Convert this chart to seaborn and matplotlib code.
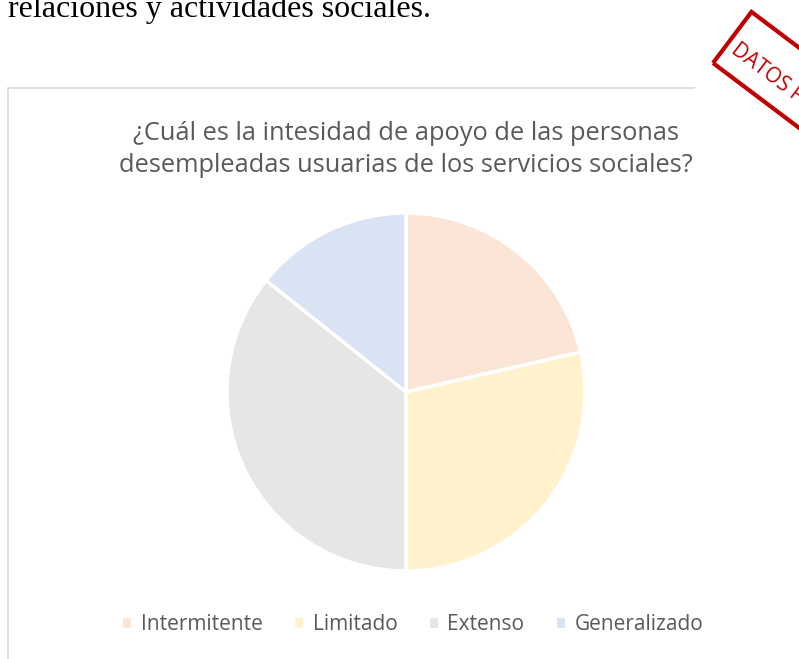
import matplotlib
matplotlib.use("Agg")
import matplotlib.pyplot as plt
import matplotlib.patches as mpatches
from matplotlib.transforms import IdentityTransform
import seaborn as sns

# data
categorias = ["Intermitente", "Limitado", "Extenso", "Generalizado"]
valores = [15, 20, 25, 10]
colores = ["#FBE5D6", "#FFF2CC", "#E6E6E6", "#DAE3F3"]
titulo = ["¿Cuál es la intesidad de apoyo de las personas",
          "desempleadas usuarias de los servicios sociales?"]

sns.set_theme(style="white")
plt.rcParams["font.family"] = ["Open Sans", "DejaVu Sans"]

W, H = 799, 659
fig = plt.figure(figsize=(W / 100, H / 100), dpi=100)
px = IdentityTransform()

# texto del documento por encima del gráfico
fig.text(8, H - 17, "relaciones y actividades sociales.", transform=px,
         family="Liberation Serif", fontsize=23, color="black", va="baseline")

# marco del gráfico
fig.add_artist(mpatches.Rectangle((8, -10), 900, H - 88 + 10, transform=px,
                                  fill=False, edgecolor="#D9D9D9", lw=1.2))

# título (dos líneas)
for i, linea in enumerate(titulo):
    fig.text(406, H - 140 - 32 * i, linea, transform=px, ha="center", va="baseline",
             fontsize=18.3, color="#595959")

# tarta
cx, cy, r = 406, H - 392, 179
ax = fig.add_axes([(cx - r) / W, (cy - r) / H, 2 * r / W, 2 * r / H])
wedges, _ = ax.pie(valores, colors=colores, startangle=90, counterclock=False,
                   wedgeprops=dict(edgecolor="white", linewidth=2.5))
ax.set_xlim(-1, 1)
ax.set_ylim(-1, 1)
ax.axis("off")

# leyenda
handles = [mpatches.Patch(facecolor=c, edgecolor="none") for c in colores]
fig.legend(handles, categorias, loc="center", bbox_to_anchor=(413 / W, (H - 625) / H),
           ncol=4, frameon=False, fontsize=15, labelcolor="#595959",
           handlelength=0.4, handleheight=0.4, handletextpad=0.45, columnspacing=1.55,
           borderpad=0, borderaxespad=0)

# sello "DATOS ..."
fig.add_artist(mpatches.Rectangle((680, H - 108), 300, 220, angle=-37, transform=px,
                                  facecolor="white", edgecolor="none"))
fig.add_artist(mpatches.Rectangle((713, H - 63), 300, 64, angle=-37, transform=px,
                                  fill=False, edgecolor="#C00000", lw=3))
fig.text(733, H - 48, "DATOS P", transform=px, rotation=-37,
         rotation_mode="anchor", ha="left", va="center", fontsize=15,
         color="#C00000")

fig.savefig("out.png", dpi=100)
